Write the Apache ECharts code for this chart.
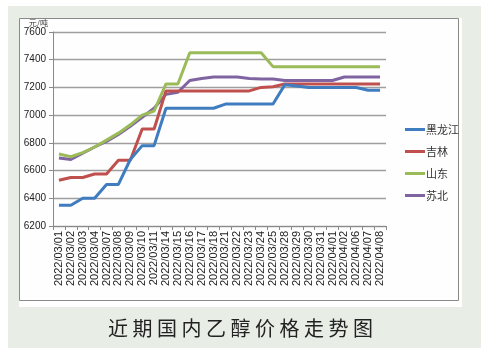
<!DOCTYPE html>
<html>
<head>
<meta charset="utf-8">
<script src="https://cdn.jsdelivr.net/npm/echarts@6/dist/echarts.min.js"></script>
<style>
html,body{margin:0;padding:0;background:#fff;}
#c{width:481px;height:358px;}
</style>
</head>
<body>
<div id="c"></div>
<script>
var categories = ['2022/03/01','2022/03/02','2022/03/03','2022/03/04','2022/03/07','2022/03/08','2022/03/09','2022/03/10','2022/03/11','2022/03/14','2022/03/15','2022/03/16','2022/03/17','2022/03/18','2022/03/21','2022/03/22','2022/03/23','2022/03/24','2022/03/25','2022/03/28','2022/03/29','2022/03/30','2022/03/31','2022/04/01','2022/04/02','2022/04/06','2022/04/07','2022/04/08'];
var heilongjiang = [6350,6350,6400,6400,6500,6500,6680,6780,6780,7050,7050,7050,7050,7050,7080,7080,7080,7080,7080,7220,7210,7200,7200,7200,7200,7200,7180,7180];
var jilin = [6530,6550,6550,6575,6575,6675,6675,6900,6900,7175,7175,7175,7175,7175,7175,7175,7175,7200,7205,7225,7225,7225,7225,7225,7225,7225,7225,7225];
var shandong = [6720,6700,6730,6770,6820,6870,6930,7000,7030,7225,7225,7450,7450,7450,7450,7450,7450,7450,7350,7350,7350,7350,7350,7350,7350,7350,7350,7350];
var subei = [6690,6680,6725,6770,6810,6860,6920,6985,7050,7150,7165,7250,7265,7275,7275,7275,7265,7260,7260,7250,7250,7250,7250,7250,7275,7275,7275,7275];
var seriesNames = ['黑龙江','吉林','山东','苏北'];
var seriesColors = ['#3f7cc0','#c0504d','#9bbb59','#8064a2'];
var yMin = 6200, yMax = 7600, yStep = 200;
var unitLabel = '元/吨';
var chartTitle = '近 期 国 内 乙 醇 价 格 走 势 图';

var chart = echarts.init(document.getElementById('c'), null, {renderer:'canvas'});
var dataSets = [heilongjiang, jilin, shandong, subei];
var series = seriesNames.map(function(n,i){
  return {
    name:n, type:'line', data:dataSets[i], symbol:'none',
    lineStyle:{color:seriesColors[i], width:3}, itemStyle:{color:seriesColors[i]},
    z: 10 + (3 - i)
  };
});
chart.setOption({
  backgroundColor:'#ffffff',
  animation:false,
  graphic:[
    {type:'rect', z:-30, silent:true, shape:{x:8,y:6,width:473,height:342}, style:{fill:'#e8ede6'}},
    {type:'rect', z:-20, silent:true, shape:{x:19,y:18,width:443,height:289}, style:{fill:'#ffffff'}},
    {type:'rect', z:-10, silent:true, shape:{x:19.5,y:18.5,width:439,height:282}, style:{fill:'#fefefe', stroke:'#8a8a8a', lineWidth:1}}
  ],
  title:{
    text: chartTitle, left:'center', top:313,
    textStyle:{fontFamily:'Noto Sans CJK SC', fontSize:20, fontWeight:'normal', color:'#222'}
  },
  legend:{
    orient:'vertical', left:400, top:119, itemWidth:20, itemHeight:3, itemGap:11,
    icon:'rect',
    textStyle:{fontFamily:'Noto Sans CJK SC', fontSize:11, color:'#333', padding:[0,0,0,-4]},
    data:seriesNames
  },
  grid:{left:53, top:32, right:95, bottom:132, containLabel:false},
  xAxis:{
    type:'category', data:categories, boundaryGap:true,
    axisLine:{lineStyle:{color:'#8a8a8a', width:1}},
    axisTick:{show:true, interval:0, length:4, lineStyle:{color:'#8a8a8a'}},
    axisLabel:{interval:0, rotate:90, fontFamily:'Liberation Sans', fontSize:11, color:'#222', margin:5}
  },
  yAxis:{
    type:'value', min:yMin, max:yMax, interval:yStep,
    name:unitLabel, nameLocation:'end', nameGap:5,
    nameTextStyle:{fontFamily:'Noto Sans CJK SC', fontSize:8, color:'#333', align:'right', verticalAlign:'bottom', padding:[0,5,0,0]},
    axisLine:{show:true, lineStyle:{color:'#8a8a8a', width:1}},
    axisTick:{show:true, length:4, lineStyle:{color:'#8a8a8a'}},
    axisLabel:{fontFamily:"'Liberation Sans Narrow','Liberation Sans',Arial", fontSize:10, color:'#222', margin:7,
      formatter:function(v){return String(v);}},
    splitLine:{lineStyle:{color:'#9e9e9e', width:1.3}}
  },
  series:series
});
</script>
</body>
</html>
